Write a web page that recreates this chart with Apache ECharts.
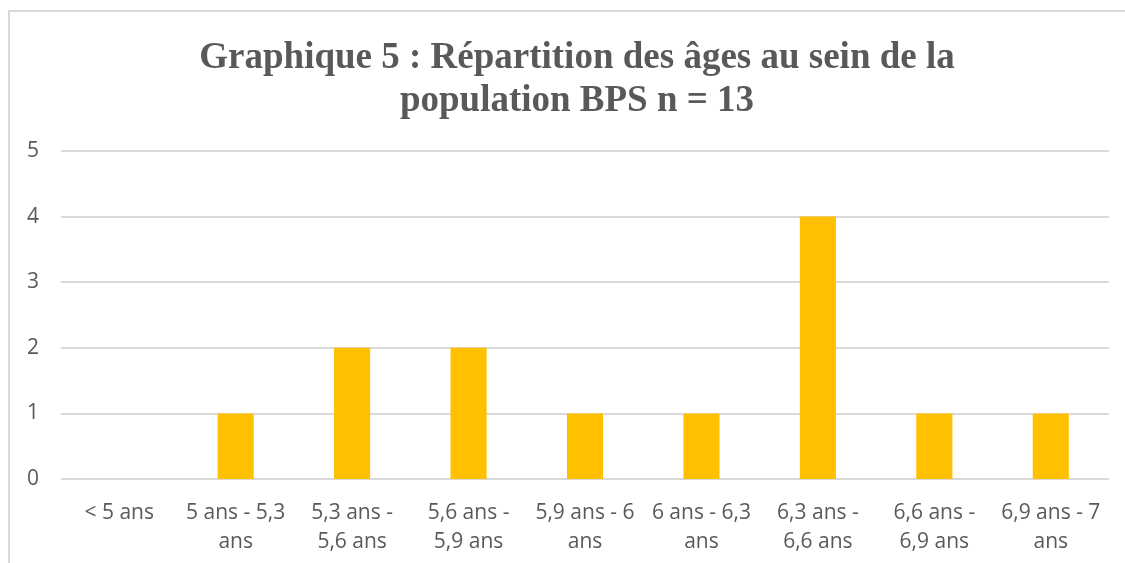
<!DOCTYPE html>
<html>
<head>
<meta charset="utf-8">
<script src="https://cdn.jsdelivr.net/npm/echarts@6/dist/echarts.min.js"></script>
<style>
  html, body { margin: 0; padding: 0; background: #fff; overflow: hidden; }
  #frame { position: absolute; left: 8px; top: 10px; width: 1200px; height: 600px; border: 2px solid #d9d9d9; }
  #main { position: absolute; left: 0; top: 0; width: 1125px; height: 563px; }
</style>
</head>
<body>
<div id="frame"></div>
<div id="main"></div>
<script>
 var myChart = echarts.init(document.getElementById('main'));

 // tranches d'age et effectifs
 var categories = ['< 5 ans', '5 ans - 5,3 ans', '5,3 ans - 5,6 ans', '5,6 ans - 5,9 ans',
                   '5,9 ans - 6 ans', '6 ans - 6,3 ans', '6,3 ans - 6,6 ans', '6,6 ans - 6,9 ans', '6,9 ans - 7 ans'];
 var effectifs = [0, 1, 2, 2, 1, 1, 4, 1, 1];
 var yTicks = [0, 1, 2, 3, 4, 5];

 var labelFont = '21px "Open Sans"';
 var ctx = document.createElement('canvas').getContext('2d');

 // coupure des libelles aux espaces, comme dans Excel
 function wrap(txt) {
    ctx.font = labelFont;
    var words = txt.split(' ');
    var lines = [], cur = '';
    words.forEach(function (w) {
        var t = cur ? cur + ' ' + w : w;
        if (cur && ctx.measureText(t).width > 110) {
            lines.push(cur);
            cur = w;
        } else {
            cur = t;
        }
    });
    lines.push(cur);
    return lines.join('\n');
 }

 var option = {
    title : {
        text: 'Graphique 5 : Répartition des âges au sein de la\npopulation BPS n = 13',
        left: 572,
        top: 32,
        textAlign: 'center',
        textStyle: {
            fontFamily: 'Liberation Serif',
            fontWeight: 'bold',
            fontSize: 37,
            lineHeight: 43,
            color: '#595959'
        }
    },
    grid: { left: 61, right: 16, top: 151, bottom: 84 },
    xAxis: {
        type: 'category',
        data: categories,
        axisLine: { show: false },
        axisTick: { show: false },
        axisLabel: {
            interval: 0,
            margin: 20,
            lineHeight: 29,
            fontFamily: 'Open Sans',
            fontSize: 21,
            color: '#595959',
            formatter: wrap
        }
    },
    yAxis: {
        type: 'value',
        min: yTicks[0],
        max: yTicks[yTicks.length - 1],
        interval: 1,
        axisLine: { show: false },
        axisTick: { show: false },
        axisLabel: { margin: 22, fontFamily: 'Open Sans', fontSize: 21, color: '#595959' },
        splitLine: { lineStyle: { color: '#d9d9d9', width: 2 } }
    },
    series : [
        {
            name: 'Effectif',
            type: 'bar',
            barWidth: '31%',
            itemStyle: { color: '#FFC000' },
            data: effectifs
        }
    ]
 };

 myChart.setOption(option);
</script>
</body>
</html>
